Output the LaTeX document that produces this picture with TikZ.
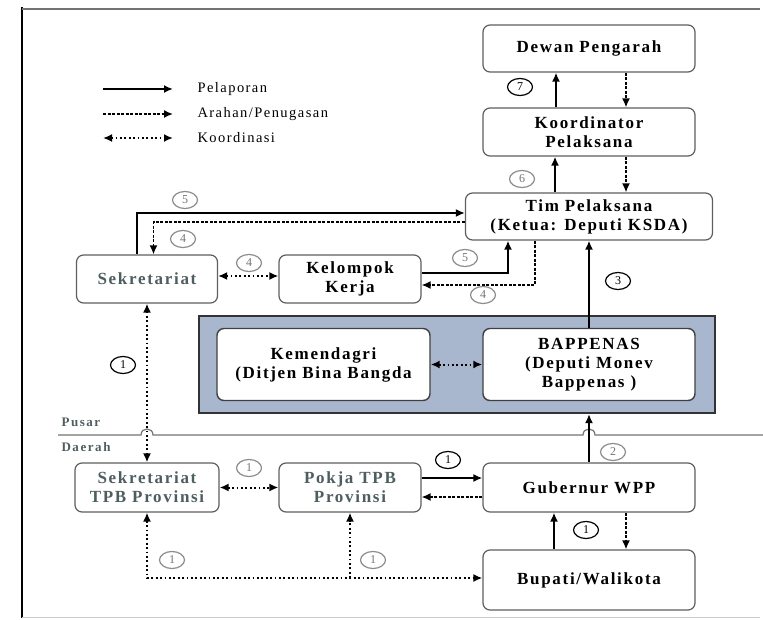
\documentclass[tikz,border=0pt]{standalone}
\usepackage{fontspec}
\setmainfont{Liberation Serif}
\usetikzlibrary{arrows.meta,shapes.geometric}
\definecolor{abu}{RGB}{78,94,96}
\definecolor{biru}{RGB}{168,182,206}
\definecolor{garis}{RGB}{95,95,95}
\newcommand{\spasi}[1]{\addfontfeature{LetterSpace=#1}}

\begin{document}
\begin{tikzpicture}[x=1pt,y=-1pt,>={Latex[length=9pt,width=8pt]},
  kotak/.style={draw=garis,line width=1.2pt,rounded corners=7pt,fill=white,align=center,
    font=\fontsize{17}{19}\selectfont\bfseries\spasi{10}},
  dalam/.style={kotak,draw=black!75,line width=1.4pt},
  lapor/.style={->,line width=2pt},
  arah/.style={->,line width=1.6pt,dash pattern=on 3pt off 1.5pt},
  titik/.style={line width=2pt,dash pattern=on 1.8pt off 2.6pt},
  legenda/.style={anchor=west,font=\fontsize{14.5}{16}\selectfont\spasi{10}},
  wilayah/.style={anchor=west,text=abu,font=\fontsize{13}{15}\selectfont\bfseries\spasi{12}},
  no/.style={ellipse,draw,line width=1.2pt,minimum width=25pt,minimum height=17pt,inner sep=0pt,
    font=\fontsize{12}{12}\selectfont},
  nog/.style={no,draw=black!45,text=black!55}]
\useasboundingbox (0,0) rectangle (763,620);

% bingkai
\draw[line width=2pt] (22,7) -- (22,618);
\draw[black!55,line width=1.2pt] (22,9) -- (760,9);
\draw[black!20,line width=1pt] (22,617) -- (760,617);

% legenda
\coordinate (la1) at (103,89); \coordinate (lb1) at (173,89);
\coordinate (la2) at (103,114); \coordinate (lb2) at (173,114);
\coordinate (la3) at (103,138); \coordinate (lb3) at (173,138);
\draw[lapor] (la1) -- (lb1);
\draw[arah] (la2) -- (lb2);
\draw[titik,<->] (la3) -- (lb3);
\node[legenda] at (194,89) (tpel) {Pelaporan};
\node[legenda] at (194,114) (tarah) {Arahan/Penugasan};
\node[legenda] at (194,138) (tkoor) {Koordinasi};

% pusat
\node[kotak,minimum width=212pt,minimum height=47pt] at (589,48.5) (dewan) {Dewan Pengarah};
\node[kotak,minimum width=212pt,minimum height=48pt] at (589,132) (koord) {Koordinator\\Pelaksana};
\node[kotak,minimum width=247pt,minimum height=47pt] at (589,216.5) (tim) {Tim Pelaksana\\(Ketua: Deputi KSDA)};
\node[kotak,text=abu,minimum width=141pt,minimum height=48pt] at (147,279) (sek) {Sekretariat};
\node[kotak,minimum width=142pt,minimum height=48pt] at (350,279) (kk) {Kelompok\\Kerja};

\node[draw=black!80,fill=biru,line width=2.2pt,minimum width=516pt,minimum height=97pt] at (457,364.5) (pusat) {};
\node[dalam,minimum width=213pt,minimum height=72pt] at (323.5,364.5) (kemen) {Kemendagri\\(Ditjen Bina Bangda};
\node[dalam,minimum width=212pt,minimum height=72pt] at (589,364.5) (bapp) {BAPPENAS\\(Deputi Monev\\Bappenas )};

% batas pusat/daerah
\draw[black!55,line width=1.2pt] (58,435) -- (141,435) .. controls (141,427) and (153,427) .. (153,435)
  -- (583,435) .. controls (583,427) and (595,427) .. (595,435) -- (763,435);
\node[wilayah] at (58,422) (tpusar) {Pusar};
\node[wilayah] at (58,447) (tdaerah) {Daerah};

% daerah
\node[kotak,text=abu,minimum width=144pt,minimum height=49pt] at (147,487.5) (sekprov) {Sekretariat\\TPB Provinsi};
\node[kotak,text=abu,minimum width=142pt,minimum height=49pt] at (350,487.5) (pokja) {Pokja TPB\\Provinsi};
\node[kotak,minimum width=212pt,minimum height=49pt] at (589,487.5) (gub) {Gubernur WPP};
\node[kotak,minimum width=212pt,minimum height=60pt] at (589,580) (bupati) {Bupati/Walikota};

% alur
\draw[lapor] ([xshift=-34pt]tim.north) -- ([xshift=-34pt]koord.south);
\draw[arah] ([xshift=37pt]koord.south) -- ([xshift=37pt]tim.north);
\draw[lapor] ([xshift=-33pt]koord.north) -- ([xshift=-33pt]dewan.south);
\draw[arah] ([xshift=37pt]dewan.south) -- ([xshift=37pt]koord.north);

\draw[lapor] ([xshift=-10pt]sek.north) |- ([yshift=3.5pt]tim.west);
\draw[arah] ([yshift=-5.5pt]tim.west) -| ([xshift=6.5pt]sek.north);
\draw[titik,<->] ([yshift=3pt]sek.east) -- ([yshift=3pt]kk.west);
\draw[lapor] ([yshift=6pt]kk.east) -| ([xshift=-81pt]tim.south);
\draw[arah] ([xshift=-54pt]tim.south) |- ([yshift=-6pt]kk.east);
\draw[lapor] (bapp.north) -- (tim.south);
\draw[titik,<->] (kemen.east) -- (bapp.west);

\draw[lapor] (gub.north) -- (gub.north |- pusat.south);
\draw[titik,<->] (sek.south) -- (sekprov.north);
\draw[titik,<->] (sekprov.east) -- (pokja.west);
\draw[lapor] ([yshift=9.5pt]pokja.east) -- ([yshift=9.5pt]gub.west);
\draw[arah] ([yshift=-9.5pt]gub.west) -- ([yshift=-9.5pt]pokja.east);
\draw[lapor] ([xshift=-35pt]bupati.north) -- ([xshift=-35pt]gub.south);
\draw[arah] ([xshift=37pt]gub.south) -- ([xshift=37pt]bupati.north);
\coordinate (bw) at ([yshift=2pt]bupati.west);
\draw[titik,<->] (sekprov.south) |- (bw);
\draw[titik,->] (bw -| pokja.south) -- (pokja.south);

% nomor
\node[no] at (520,87) (n7) {7};
\node[nog] at (522,179) (n6) {6};
\node[nog] at (185,200) (n5a) {5};
\node[nog] at (183,239) (n4a) {4};
\node[nog] at (249,263) (n4b) {4};
\node[nog] at (465,258) (n5b) {5};
\node[nog] at (483,295) (n4c) {4};
\node[no] at (618,281) (n3) {3};
\node[nog] at (613,452) (n2) {2};
\node[no] at (123,365) (n1a) {1};
\node[nog] at (249,468) (n1b) {1};
\node[no] at (448,460) (n1c) {1};
\node[no] at (586,530) (n1d) {1};
\node[nog] at (172,560) (n1e) {1};
\node[nog] at (373,560) (n1f) {1};
\end{tikzpicture}
\end{document}
